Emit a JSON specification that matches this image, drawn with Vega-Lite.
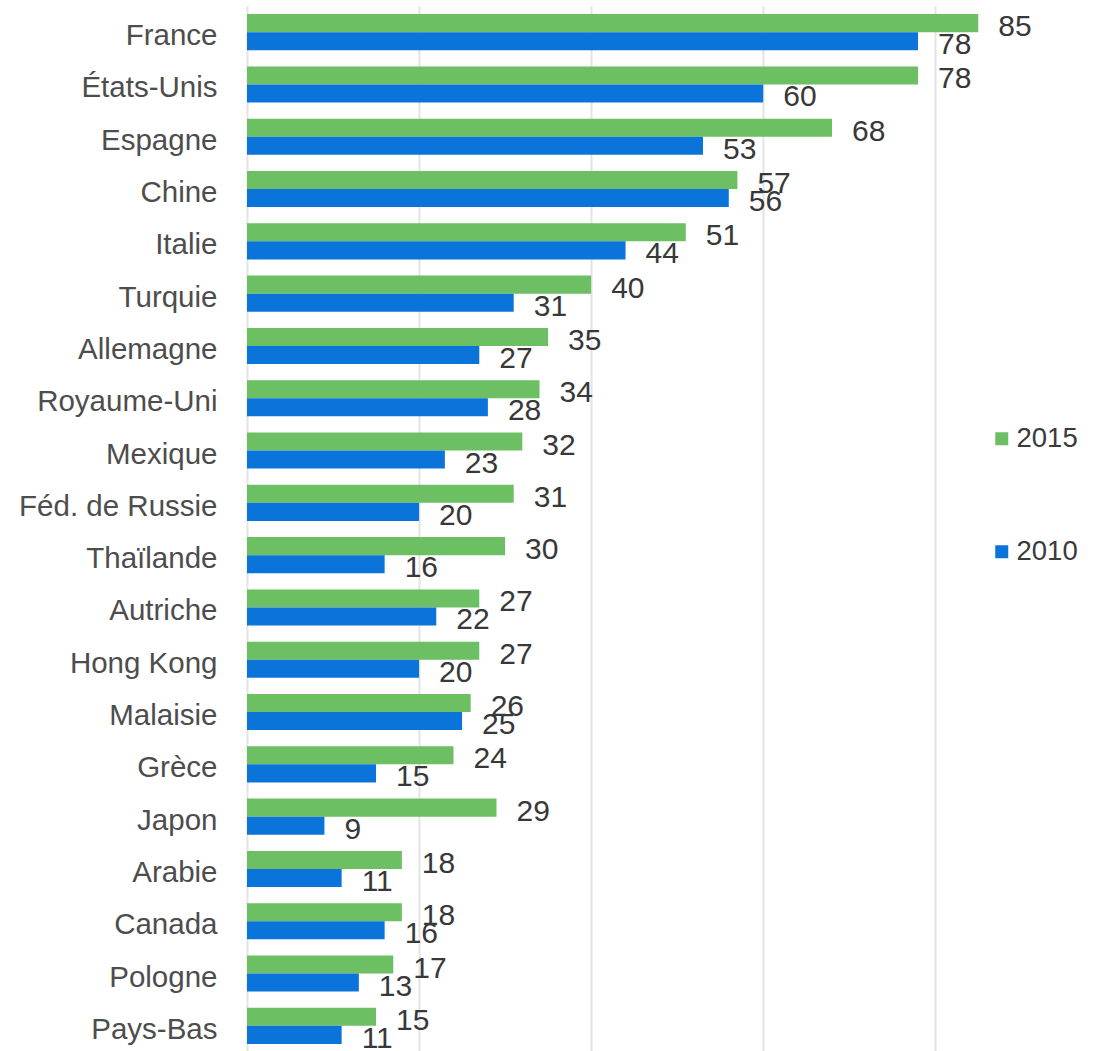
{
  "$schema": "https://vega.github.io/schema/vega-lite/v6.json",
  "autosize": "none",
  "width": 850,
  "height": 1046,
  "padding": {"left": 247, "top": 6, "right": 0, "bottom": 0},
  "background": "#ffffff",
  "config": {
    "view": {"stroke": null},
    "font": "Liberation Sans"
  },
  "data": {
    "values": [
      {"country": "France", "year": "2015", "value": 85},
      {"country": "France", "year": "2010", "value": 78},
      {"country": "États-Unis", "year": "2015", "value": 78},
      {"country": "États-Unis", "year": "2010", "value": 60},
      {"country": "Espagne", "year": "2015", "value": 68},
      {"country": "Espagne", "year": "2010", "value": 53},
      {"country": "Chine", "year": "2015", "value": 57},
      {"country": "Chine", "year": "2010", "value": 56},
      {"country": "Italie", "year": "2015", "value": 51},
      {"country": "Italie", "year": "2010", "value": 44},
      {"country": "Turquie", "year": "2015", "value": 40},
      {"country": "Turquie", "year": "2010", "value": 31},
      {"country": "Allemagne", "year": "2015", "value": 35},
      {"country": "Allemagne", "year": "2010", "value": 27},
      {"country": "Royaume-Uni", "year": "2015", "value": 34},
      {"country": "Royaume-Uni", "year": "2010", "value": 28},
      {"country": "Mexique", "year": "2015", "value": 32},
      {"country": "Mexique", "year": "2010", "value": 23},
      {"country": "Féd. de Russie", "year": "2015", "value": 31},
      {"country": "Féd. de Russie", "year": "2010", "value": 20},
      {"country": "Thaïlande", "year": "2015", "value": 30},
      {"country": "Thaïlande", "year": "2010", "value": 16},
      {"country": "Autriche", "year": "2015", "value": 27},
      {"country": "Autriche", "year": "2010", "value": 22},
      {"country": "Hong Kong", "year": "2015", "value": 27},
      {"country": "Hong Kong", "year": "2010", "value": 20},
      {"country": "Malaisie", "year": "2015", "value": 26},
      {"country": "Malaisie", "year": "2010", "value": 25},
      {"country": "Grèce", "year": "2015", "value": 24},
      {"country": "Grèce", "year": "2010", "value": 15},
      {"country": "Japon", "year": "2015", "value": 29},
      {"country": "Japon", "year": "2010", "value": 9},
      {"country": "Arabie", "year": "2015", "value": 18},
      {"country": "Arabie", "year": "2010", "value": 11},
      {"country": "Canada", "year": "2015", "value": 18},
      {"country": "Canada", "year": "2010", "value": 16},
      {"country": "Pologne", "year": "2015", "value": 17},
      {"country": "Pologne", "year": "2010", "value": 13},
      {"country": "Pays-Bas", "year": "2015", "value": 15},
      {"country": "Pays-Bas", "year": "2010", "value": 11}
    ]
  },
  "encoding": {
    "y": {
      "field": "country",
      "type": "nominal",
      "sort": null,
      "scale": {"paddingInner": 0.31, "paddingOuter": 0.155},
      "axis": {
        "title": null,
        "domain": false,
        "ticks": false,
        "labelFontSize": 29.5,
        "labelColor": "#4d4d4d",
        "labelPadding": 30,
        "labelLimit": 0,
        "labelOffset": 4,
        "labelFont": "Liberation Sans"
      }
    },
    "yOffset": {"field": "year", "type": "nominal", "sort": ["2015", "2010"]},
    "x": {
      "field": "value",
      "type": "quantitative",
      "scale": {"domain": [0, 98.8], "nice": false, "zero": true},
      "axis": {
        "title": null,
        "labels": false,
        "ticks": false,
        "domain": false,
        "grid": true,
        "values": [0, 20, 40, 60, 80],
        "gridColor": "#e4e4e4",
        "gridWidth": 2
      }
    }
  },
  "layer": [
    {
      "mark": {"type": "bar"},
      "encoding": {
        "color": {
          "field": "year",
          "type": "nominal",
          "scale": {"domain": ["2015", "2010"], "range": ["#6cbf62", "#0a74da"]},
          "legend": {
            "title": null,
            "orient": "none",
            "legendX": 741,
            "legendY": 419,
            "symbolType": "square",
            "symbolSize": 169,
            "symbolStrokeWidth": 0,
            "labelFontSize": 27.5,
            "labelColor": "#3a3a3a",
            "labelFont": "Liberation Sans",
            "labelOffset": 1,
            "rowPadding": 84
          }
        }
      }
    },
    {
      "mark": {"type": "text", "align": "left", "baseline": "middle", "dx": 20, "dy": 4, "fontSize": 30, "color": "#383838", "font": "Liberation Sans"},
      "encoding": {
        "text": {"field": "value", "type": "quantitative"}
      }
    }
  ]
}
